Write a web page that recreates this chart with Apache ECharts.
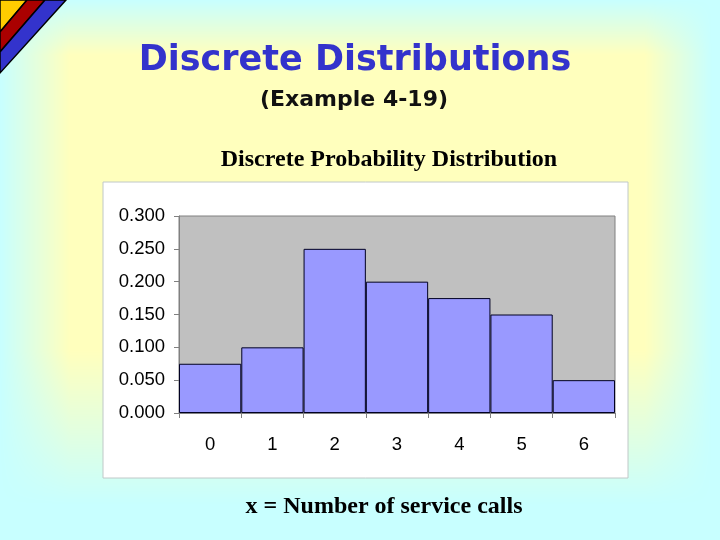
<!DOCTYPE html>
<html>
<head>
<meta charset="utf-8">
<script src="https://cdn.jsdelivr.net/npm/echarts@6/dist/echarts.min.js"></script>
<style>
html,body{margin:0;padding:0;}
body{width:720px;height:540px;background:#c8ffff;position:relative;overflow:hidden;}
#bg{position:absolute;left:0;top:0;width:720px;height:540px;background:#ffffbd;
  -webkit-mask-image:linear-gradient(to right, transparent 0px, #000 70px, #000 645px, transparent 712px),
                     linear-gradient(to bottom, transparent 0px, #000 55px, #000 350px, transparent 505px);
  -webkit-mask-composite:source-in;
  mask-image:linear-gradient(to right, transparent 0px, #000 70px, #000 645px, transparent 712px),
             linear-gradient(to bottom, transparent 0px, #000 55px, #000 350px, transparent 505px);
  mask-composite:intersect;}
#c{position:absolute;left:0;top:0;width:720px;height:540px;}
</style>
</head>
<body>
<div id="bg"></div>
<div id="c"></div>
<script>
const categories = ['0', '1', '2', '3', '4', '5', '6'];
const probabilities = [0.075, 0.100, 0.250, 0.200, 0.175, 0.150, 0.050];
const yTicks = [0, 0.05, 0.10, 0.15, 0.20, 0.25, 0.30];

const chart = echarts.init(document.getElementById('c'), null, {renderer: 'canvas'});
chart.setOption({
  backgroundColor: 'transparent',
  animation: false,
  title: [
    {text: 'Discrete Distributions', left: 350, textAlign: 'center', top: 38,
     textStyle: {fontFamily: 'DejaVu Sans', fontWeight: 'bold', fontSize: 35, color: '#3333cc',
       textShadowColor: '#9a9a9a', textShadowOffsetX: 2, textShadowOffsetY: 2, textShadowBlur: 0}},
    {text: '(Example 4-19)', left: 349, textAlign: 'center', top: 84,
     textStyle: {fontFamily: 'DejaVu Sans', fontWeight: 'bold', fontSize: 22, color: '#111111',
       textShadowColor: '#bbbbbb', textShadowOffsetX: 1, textShadowOffsetY: 1, textShadowBlur: 0}},
    {text: 'Discrete Probability Distribution', left: 384, textAlign: 'center', top: 143,
     textStyle: {fontFamily: 'Liberation Serif', fontWeight: 'bold', fontSize: 24, color: '#000000'}},
    {text: 'x = Number of service calls', left: 379, textAlign: 'center', top: 490,
     textStyle: {fontFamily: 'Liberation Serif', fontWeight: 'bold', fontSize: 24, color: '#000000'}}
  ],
  graphic: [
    {type: 'rect', z: -10, shape: {x: 103, y: 182, width: 525, height: 296},
     style: {fill: '#ffffff', stroke: '#c0c8c8', lineWidth: 1}},
    {type: 'polygon', shape: {points: [[0,0],[27,0],[0,32]]},
     style: {fill: '#ffcc00', stroke: '#000', lineWidth: 1.5}},
    {type: 'polygon', shape: {points: [[27,0],[45,0],[0,52],[0,32]]},
     style: {fill: '#aa0000', stroke: '#000', lineWidth: 1.5}},
    {type: 'polygon', shape: {points: [[45,0],[66,0],[0,73],[0,52]]},
     style: {fill: '#3333cc', stroke: '#000', lineWidth: 1.5}}
  ],
  grid: {left: 179, top: 216, right: 105, bottom: 127, show: true,
    backgroundColor: '#c0c0c0', borderColor: '#808080', borderWidth: 1},
  xAxis: {
    type: 'category', data: categories, boundaryGap: true,
    axisLine: {lineStyle: {color: '#808080'}},
    axisTick: {show: true, alignWithLabel: false, length: 5, lineStyle: {color: '#808080'}},
    axisLabel: {fontFamily: 'Liberation Sans', fontSize: 18.5, color: '#000', margin: 22}
  },
  yAxis: {
    type: 'value', min: 0, max: 0.3, interval: 0.05,
    splitLine: {show: false},
    axisLine: {show: true, lineStyle: {color: '#808080'}},
    axisTick: {show: true, length: 5, lineStyle: {color: '#808080'}},
    axisLabel: {fontFamily: 'Liberation Sans', fontSize: 18.5, color: '#000', margin: 14,
      formatter: v => v.toFixed(3)}
  },
  series: [{
    type: 'bar', data: probabilities, barCategoryGap: '0%',
    itemStyle: {color: '#9999ff', borderColor: '#000022', borderWidth: 1}
  }]
});
</script>
</body>
</html>
